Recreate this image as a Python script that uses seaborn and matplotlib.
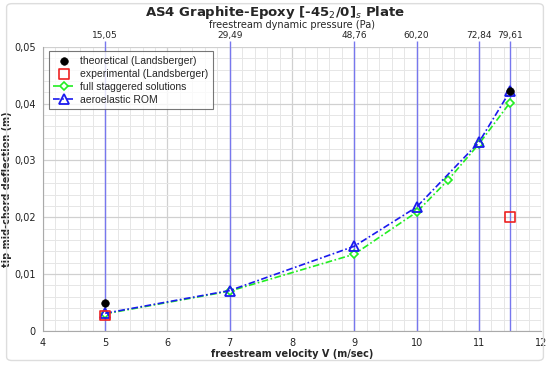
import numpy as np
import matplotlib
matplotlib.use("Agg")
import matplotlib.pyplot as plt
import seaborn as sns
from matplotlib.patches import FancyBboxPatch
from matplotlib.ticker import MultipleLocator, FuncFormatter

# data
theo_v = [5.0, 11.5]
theo_d = [0.0049, 0.0423]

exp_v = [5.0, 11.5]
exp_d = [0.0027, 0.0201]

stag_v = [5.0, 7.0, 9.0, 10.0, 10.5, 11.0, 11.5]
stag_d = [0.0030, 0.0070, 0.0135, 0.0209, 0.0265, 0.0329, 0.0402]

rom_v = [5.0, 7.0, 9.0, 10.0, 11.0, 11.5]
rom_d = [0.0031, 0.0071, 0.0149, 0.0218, 0.0332, 0.0422]

q_pos = [5.0, 7.0, 9.0, 10.0, 11.0, 11.5]
q_labels = ["15,05", "29,49", "48,76", "60,20", "72,84", "79,61"]

sns.set_style("white")
plt.rcParams["font.family"] = ["DejaVu Sans"]

fig = plt.figure(figsize=(5.5, 3.66), dpi=100)
ax = fig.add_axes([0.078, 0.096, 0.906, 0.776])

# grid
ax.xaxis.set_minor_locator(MultipleLocator(0.2))
ax.yaxis.set_minor_locator(MultipleLocator(0.002))
ax.grid(which="major", color="#d0d0d0", lw=0.9)
ax.grid(which="minor", color="#e6e6e6", lw=0.7)
ax.set_axisbelow(True)

for v in q_pos:
    ax.axvline(v, color="#7777ee", lw=1.0, zorder=1)

dashdot = (4, 1.5, 1, 1.5)
sns.lineplot(x=stag_v, y=stag_d, ax=ax, color="#22ee22", lw=1.2, dashes=False,
             marker="D", markersize=4, markerfacecolor="white",
             markeredgecolor="#22ee22", markeredgewidth=1.2,
             label="full staggered solutions", zorder=3, estimator=None, sort=False)
sns.lineplot(x=rom_v, y=rom_d, ax=ax, color="#1a1aee", lw=1.2, dashes=False,
             marker="^", markersize=6.5, markerfacecolor="none",
             markeredgecolor="#1a1aee", markeredgewidth=1.3,
             label="aeroelastic ROM", zorder=4, estimator=None, sort=False)
for ln in ax.lines[-2:]:
    ln.set_dashes(dashdot)
sns.scatterplot(x=theo_v, y=theo_d, ax=ax, color="black", s=30, marker="o",
                edgecolor="black", label="theoretical (Landsberger)", zorder=5)
sns.scatterplot(x=exp_v, y=exp_d, ax=ax, marker="s", s=50, facecolor="none",
                edgecolor="#ee2222", linewidth=1.2,
                label="experimental (Landsberger)", zorder=5)

ax.set_xlim(4, 12)
ax.set_ylim(0, 0.05)
ax.set_xticks(np.arange(4, 13, 1))
ax.set_yticks(np.arange(0, 0.051, 0.01))
ax.yaxis.set_major_formatter(FuncFormatter(
    lambda y, p: "0" if abs(y) < 1e-9 else ("%.2f" % y).replace(".", ",")))
ax.tick_params(axis="both", which="major", labelsize=7, length=3, pad=2,
               color="#888888", labelcolor="#222222", direction="out")
ax.tick_params(which="minor", length=0)
for s in ["top", "right"]:
    ax.spines[s].set_visible(False)
for s in ["left", "bottom"]:
    ax.spines[s].set_color("#aaaaaa")
    ax.spines[s].set_linewidth(0.8)

ax.set_xlabel("freestream velocity V (m/sec)", fontsize=7, fontweight="bold", labelpad=1)
ax.set_ylabel("tip mid-chord deflection (m)", fontsize=7, fontweight="bold", labelpad=2)

# top axis with dynamic pressure
top = ax.secondary_xaxis("top")
top.set_xticks(q_pos)
top.set_xticklabels(q_labels)
top.tick_params(labelsize=6.5, length=4, color="#7777ee", width=1.0, pad=1)
top.spines["top"].set_visible(False)
top.set_xlabel("freestream dynamic pressure (Pa)", fontsize=7, labelpad=2)

fig.suptitle("AS4 Graphite-Epoxy [-45$_2$/0]$_s$ Plate", fontsize=9.5,
             fontweight="bold", y=0.967, va="center")

# legend order as in reference
h, l = ax.get_legend_handles_labels()
order = ["theoretical (Landsberger)", "experimental (Landsberger)",
         "full staggered solutions", "aeroelastic ROM"]
hh = [h[l.index(o)] for o in order]
leg = ax.legend(hh, order, loc="upper left", bbox_to_anchor=(0.006, 0.995),
                borderaxespad=0.3,
                prop={"family": ["Liberation Sans"], "size": 7.5},
                frameon=True, fancybox=False, borderpad=0.4,
                handlelength=2.0, handletextpad=0.6, labelspacing=0.3)
leg.get_frame().set_edgecolor("#555555")
leg.get_frame().set_linewidth(0.8)
leg.set_zorder(10)

# light frame around the figure
fig.patches.append(FancyBboxPatch((0.012, 0.015), 0.976, 0.975,
                                  boxstyle="round,pad=0,rounding_size=0.01",
                                  transform=fig.transFigure, fill=False,
                                  edgecolor="#dddddd", lw=1.0))

fig.savefig("out.png", dpi=100)
